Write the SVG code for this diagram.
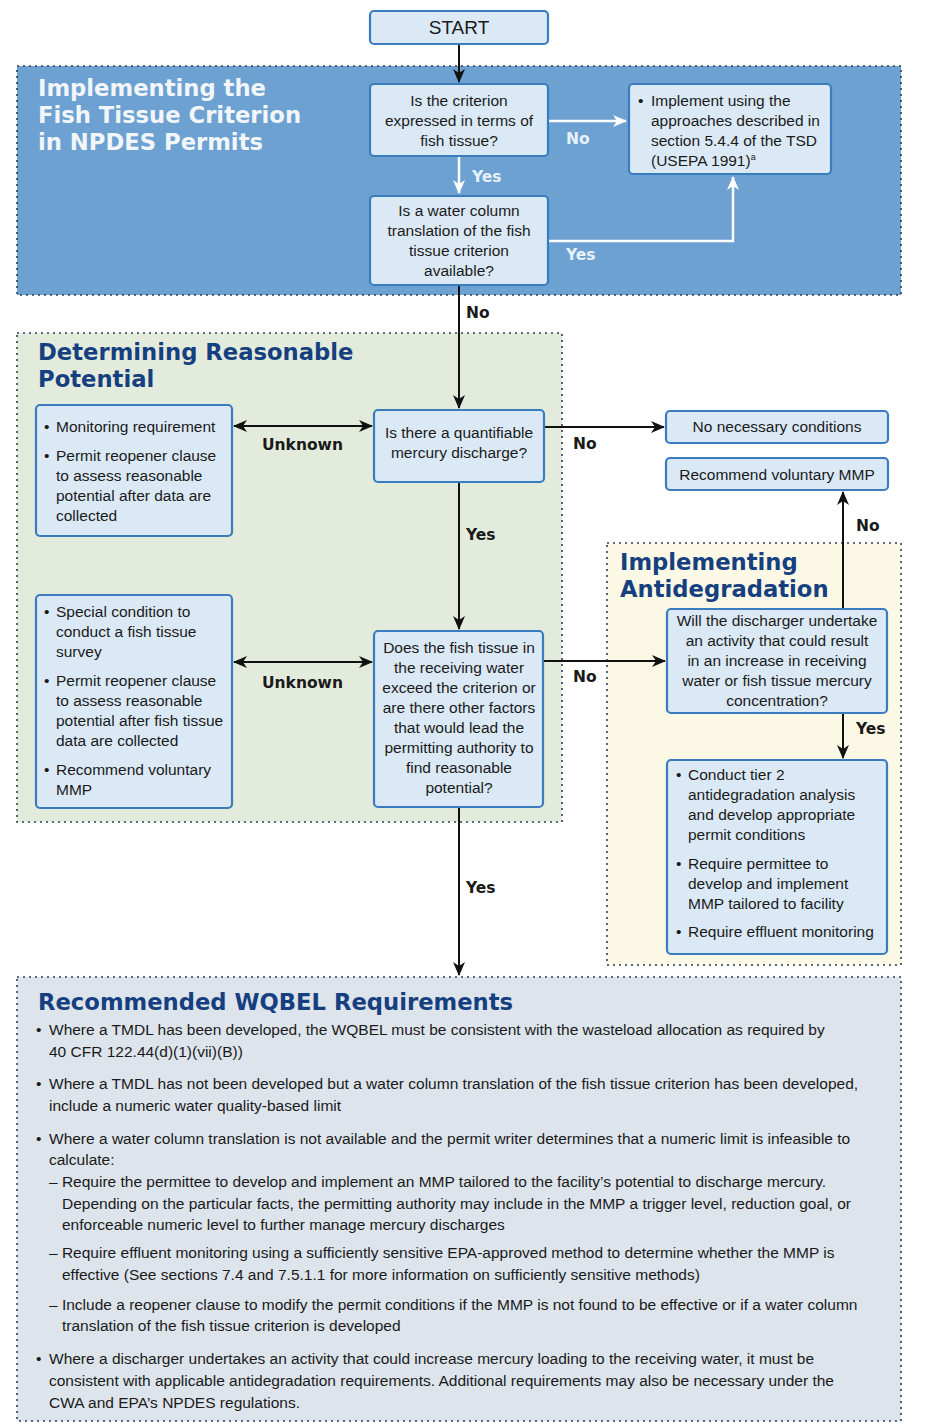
<svg xmlns="http://www.w3.org/2000/svg" width="926" height="1426" viewBox="0 0 926 1426">
<defs>
<style>
.node{fill:#dbe9f6;stroke:#3b7cbf;stroke-width:2.2}
.t{font-family:"Liberation Sans",Arial,sans-serif;font-size:15.5px;fill:#1a1a1a}
.c{text-anchor:middle}
.lbl{font-family:"DejaVu Sans",Verdana,sans-serif;font-size:15.5px;font-weight:bold;fill:#1a1a1a}
.wl{font-family:"DejaVu Sans",Verdana,sans-serif;font-size:15.5px;font-weight:bold;fill:#e8f1fa}
.title{font-family:"DejaVu Sans",Verdana,sans-serif;font-size:22.7px;font-weight:bold;fill:#163f80}
.wtitle{font-family:"DejaVu Sans",Verdana,sans-serif;font-size:22.7px;font-weight:bold;fill:#f2f6fa}
.panel{stroke:#2c3e55;stroke-width:1.6;stroke-dasharray:2 4}
.blk{fill:none;stroke:#111;stroke-width:2}
.wht{fill:none;stroke:#ffffff;stroke-width:2.5}
</style>
<marker id="ab" viewBox="0 0 14 12" refX="13" refY="6" markerWidth="14" markerHeight="12" markerUnits="userSpaceOnUse" orient="auto-start-reverse">
<path d="M0,0 L14,6 L0,12 L4,6 Z" fill="#111"/>
</marker>
<marker id="aw" viewBox="0 0 14 12" refX="13" refY="6" markerWidth="14" markerHeight="12" markerUnits="userSpaceOnUse" orient="auto">
<path d="M0,0 L14,6 L0,12 L4,6 Z" fill="#ffffff"/>
</marker>
</defs>
<rect width="926" height="1426" fill="#ffffff"/>

<!-- Panels -->
<g id="panel-fish">
<rect class="panel" x="17" y="66" width="884" height="229" fill="#6ca1d1"/>
<text class="wtitle" x="38" y="96">Implementing the</text>
<text class="wtitle" x="38" y="123">Fish Tissue Criterion</text>
<text class="wtitle" x="38" y="150">in NPDES Permits</text>
</g>
<g id="panel-rp">
<rect class="panel" x="17" y="333" width="545" height="489" fill="#e3ecdc"/>
<text class="title" x="38" y="360">Determining Reasonable</text>
<text class="title" x="38" y="387">Potential</text>
</g>
<g id="panel-anti">
<rect class="panel" x="607" y="543" width="294" height="422" fill="#fbf9e6"/>
<text class="title" x="620" y="570">Implementing</text>
<text class="title" x="620" y="597">Antidegradation</text>
</g>

<!-- Connectors -->
<g id="connectors">
<line class="blk" x1="459" y1="44" x2="459" y2="82" marker-end="url(#ab)"/>
<line class="wht" x1="548" y1="121" x2="626" y2="121" marker-end="url(#aw)"/>
<text class="wl" x="566" y="144">No</text>
<line class="wht" x1="459" y1="157" x2="459" y2="193" marker-end="url(#aw)"/>
<text class="wl" x="472" y="182">Yes</text>
<polyline class="wht" points="548,241 733,241 733,177" marker-end="url(#aw)"/>
<text class="wl" x="566" y="260">Yes</text>
<line class="blk" x1="459" y1="285" x2="459" y2="408" marker-end="url(#ab)"/>
<text class="lbl" x="466" y="318">No</text>
<line class="blk" x1="234" y1="426" x2="372" y2="426" marker-start="url(#ab)" marker-end="url(#ab)"/>
<text class="lbl" x="262" y="450">Unknown</text>
<line class="blk" x1="544" y1="427" x2="664" y2="427" marker-end="url(#ab)"/>
<text class="lbl" x="573" y="449">No</text>
<line class="blk" x1="459" y1="482" x2="459" y2="629" marker-end="url(#ab)"/>
<text class="lbl" x="466" y="540">Yes</text>
<line class="blk" x1="234" y1="662" x2="372" y2="662" marker-start="url(#ab)" marker-end="url(#ab)"/>
<text class="lbl" x="262" y="688">Unknown</text>
<line class="blk" x1="543" y1="661" x2="665" y2="661" marker-end="url(#ab)"/>
<text class="lbl" x="573" y="682">No</text>
<line class="blk" x1="843" y1="609" x2="843" y2="492" marker-end="url(#ab)"/>
<text class="lbl" x="856" y="531">No</text>
<line class="blk" x1="843" y1="713" x2="843" y2="758" marker-end="url(#ab)"/>
<text class="lbl" x="856" y="734">Yes</text>
<line class="blk" x1="459" y1="807" x2="459" y2="975" marker-end="url(#ab)"/>
<text class="lbl" x="466" y="893">Yes</text>
</g>

<!-- Nodes -->
<g id="start">
<rect class="node" x="370" y="11" width="178" height="33" rx="4"/>
<text class="t c" x="459" y="34" style="font-size:19px">START</text>
</g>
<g id="q1">
<rect class="node" x="370" y="84" width="178" height="72" rx="4"/>
<text class="t c" x="459" y="106">Is the criterion</text>
<text class="t c" x="459" y="126">expressed in terms of</text>
<text class="t c" x="459" y="146">fish tissue?</text>
</g>
<g id="implement-tsd">
<rect class="node" x="629" y="84" width="202" height="90" rx="4"/>
<text class="t" x="638" y="106">•</text>
<text class="t" x="651" y="106">Implement using the</text>
<text class="t" x="651" y="126">approaches described in</text>
<text class="t" x="651" y="146">section 5.4.4 of the TSD</text>
<text class="t" x="651" y="166">(USEPA 1991)<tspan font-size="9" dy="-6">a</tspan></text>
</g>
<g id="q2">
<rect class="node" x="370" y="196" width="178" height="89" rx="4"/>
<text class="t c" x="459" y="216">Is a water column</text>
<text class="t c" x="459" y="236">translation of the fish</text>
<text class="t c" x="459" y="256">tissue criterion</text>
<text class="t c" x="459" y="276">available?</text>
</g>
<g id="monitoring">
<rect class="node" x="36" y="405" width="196" height="131" rx="4"/>
<text class="t" x="44" y="432">•</text>
<text class="t" x="56" y="432">Monitoring requirement</text>
<text class="t" x="44" y="461">•</text>
<text class="t" x="56" y="461">Permit reopener clause</text>
<text class="t" x="56" y="481">to assess reasonable</text>
<text class="t" x="56" y="501">potential after data are</text>
<text class="t" x="56" y="521">collected</text>
</g>
<g id="q3">
<rect class="node" x="374" y="410" width="170" height="72" rx="4"/>
<text class="t c" x="459" y="438">Is there a quantifiable</text>
<text class="t c" x="459" y="458">mercury discharge?</text>
</g>
<g id="no-conditions">
<rect class="node" x="666" y="411" width="222" height="32" rx="4"/>
<text class="t c" x="777" y="432">No necessary conditions</text>
</g>
<g id="voluntary-mmp">
<rect class="node" x="666" y="458" width="222" height="32" rx="4"/>
<text class="t c" x="777" y="480">Recommend voluntary MMP</text>
</g>
<g id="fish-survey">
<rect class="node" x="36" y="595" width="196" height="213" rx="4"/>
<text class="t" x="44" y="617">•</text>
<text class="t" x="56" y="617">Special condition to</text>
<text class="t" x="56" y="637">conduct a fish tissue</text>
<text class="t" x="56" y="657">survey</text>
<text class="t" x="44" y="686">•</text>
<text class="t" x="56" y="686">Permit reopener clause</text>
<text class="t" x="56" y="706">to assess reasonable</text>
<text class="t" x="56" y="726">potential after fish tissue</text>
<text class="t" x="56" y="746">data are collected</text>
<text class="t" x="44" y="775">•</text>
<text class="t" x="56" y="775">Recommend voluntary</text>
<text class="t" x="56" y="795">MMP</text>
</g>
<g id="q4">
<rect class="node" x="374" y="631" width="169" height="176" rx="4"/>
<text class="t c" x="459" y="653">Does the fish tissue in</text>
<text class="t c" x="459" y="673">the receiving water</text>
<text class="t c" x="459" y="693">exceed the criterion or</text>
<text class="t c" x="459" y="713">are there other factors</text>
<text class="t c" x="459" y="733">that would lead the</text>
<text class="t c" x="459" y="753">permitting authority to</text>
<text class="t c" x="459" y="773">find reasonable</text>
<text class="t c" x="459" y="793">potential?</text>
</g>
<g id="q5">
<rect class="node" x="667" y="609" width="220" height="104" rx="4"/>
<text class="t c" x="777" y="626">Will the discharger undertake</text>
<text class="t c" x="777" y="646">an activity that could result</text>
<text class="t c" x="777" y="666">in an increase in receiving</text>
<text class="t c" x="777" y="686">water or fish tissue mercury</text>
<text class="t c" x="777" y="706">concentration?</text>
</g>
<g id="tier2">
<rect class="node" x="667" y="760" width="220" height="194" rx="4"/>
<text class="t" x="676" y="780">•</text>
<text class="t" x="688" y="780">Conduct tier 2</text>
<text class="t" x="688" y="800">antidegradation analysis</text>
<text class="t" x="688" y="820">and develop appropriate</text>
<text class="t" x="688" y="840">permit conditions</text>
<text class="t" x="676" y="869">•</text>
<text class="t" x="688" y="869">Require permittee to</text>
<text class="t" x="688" y="889">develop and implement</text>
<text class="t" x="688" y="909">MMP tailored to facility</text>
<text class="t" x="676" y="937">•</text>
<text class="t" x="688" y="937">Require effluent monitoring</text>
</g>

<g id="wqbel">
<rect class="panel" x="17" y="977" width="884" height="444" fill="#dde4ec"/>
<text class="title" x="38" y="1010">Recommended WQBEL Requirements</text>
<text class="t" x="36" y="1035">•</text>
<text class="t" x="49" y="1035">Where a TMDL has been developed, the WQBEL must be consistent with the wasteload allocation as required by</text>
<text class="t" x="49" y="1057">40 CFR 122.44(d)(1)(vii)(B))</text>
<text class="t" x="36" y="1089">•</text>
<text class="t" x="49" y="1089">Where a TMDL has not been developed but a water column translation of the fish tissue criterion has been developed,</text>
<text class="t" x="49" y="1111">include a numeric water quality-based limit</text>
<text class="t" x="36" y="1144">•</text>
<text class="t" x="49" y="1144">Where a water column translation is not available and the permit writer determines that a numeric limit is infeasible to</text>
<text class="t" x="49" y="1165">calculate:</text>
<text class="t" x="49" y="1187">– Require the permittee to develop and implement an MMP tailored to the facility’s potential to discharge mercury.</text>
<text class="t" x="62" y="1209">Depending on the particular facts, the permitting authority may include in the MMP a trigger level, reduction goal, or</text>
<text class="t" x="62" y="1230">enforceable numeric level to further manage mercury discharges</text>
<text class="t" x="49" y="1258">– Require effluent monitoring using a sufficiently sensitive EPA-approved method to determine whether the MMP is</text>
<text class="t" x="62" y="1280">effective (See sections 7.4 and 7.5.1.1 for more information on sufficiently sensitive methods)</text>
<text class="t" x="49" y="1310">– Include a reopener clause to modify the permit conditions if the MMP is not found to be effective or if a water column</text>
<text class="t" x="62" y="1331">translation of the fish tissue criterion is developed</text>
<text class="t" x="36" y="1364">•</text>
<text class="t" x="49" y="1364">Where a discharger undertakes an activity that could increase mercury loading to the receiving water, it must be</text>
<text class="t" x="49" y="1386">consistent with applicable antidegradation requirements. Additional requirements may also be necessary under the</text>
<text class="t" x="49" y="1408">CWA and EPA’s NPDES regulations.</text>
</g>
</svg>
